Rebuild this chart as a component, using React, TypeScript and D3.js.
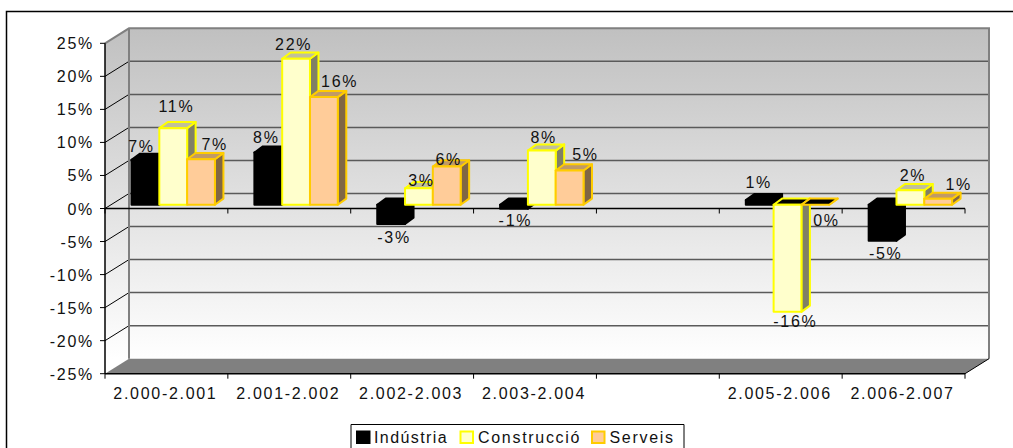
import * as d3 from 'd3'

const categories = ['2.000-2.001', '2.001-2.002', '2.002-2.003', '2.003-2.004', '', '2.005-2.006', '2.006-2.007']
const seriesNames = ['Indústria', 'Construcció', 'Serveis']
const industria = [6.8, 7.9, -2.9, -0.6, null, 0.7, -5.45]
const construccio = [11.6, 22.1, 2.5, 8.2, null, -16.2, 2.2]
const serveis = [6.9, 16.3, 5.8, 5.2, null, 0, 0.9]
const industriaLabels = ['7%', '8%', '-3%', '-1%', '', '1%', '-5%']
const construccioLabels = ['11%', '22%', '3%', '8%', '', '-16%', '2%']
const serveisLabels = ['7%', '16%', '6%', '5%', '', '0%', '1%']
const yTicks = [25, 20, 15, 10, 5, 0, -5, -10, -15, -20, -25]

const series = [
  { name: seriesNames[0], values: industria, labels: industriaLabels, fill: '#000000', stroke: '#000000', top: '#000000', side: '#000000' },
  { name: seriesNames[1], values: construccio, labels: construccioLabels, fill: '#ffffcc', stroke: '#ffff00', top: '#c0c09a', side: '#808066' },
  { name: seriesNames[2], values: serveis, labels: serveisLabels, fill: '#ffcc99', stroke: '#ffcc00', top: '#c09a66', side: '#806644' },
]

// hand placed label offsets from the top of each bar, [dx, dy]
const labelNudges = [
  [[-3.5, -8], [-1.4, -10], [3.4, 18.6], [1.9, 17.7], null, [-0.5, -12], [3.6, 18]],
  [[3.7, -16.4], [-1.9, -8.4], [3, -1.8], [2.4, -7.6], null, [8.4, 14.8], [3.1, -9.5]],
  [[14.2, -9.5], [16.3, -9.7], [2.5, -1.7], [16.3, -10], null, [11.6, 21], [21, -8.4]],
]

const W = 1013, H = 448
const X0 = 105, X1 = 965
const WALL_DX = 24, WALL_DY = -15
const BAR_OFF_X = 6.8, BAR_OFF_Y = -3.7
const DEPTH_X = 8.5, DEPTH_Y = -6.2
const BAR_W = 27.8
const FONT = 'Liberation Sans, Arial, sans-serif'

const x = d3.scaleBand<string>().domain(categories.map((c, i) => c || `gap${i}`)).range([X0, X1])
const y = d3.scaleLinear().domain([-25, 25]).range([373.7, 43.3])

const pts = (p: number[][]) => p.map(d => d.join(',')).join(' ')

function Bar({ cat, idx, s, si }: any) {
  const v = s.values[idx]
  if (v === null) return null
  const bw = x.bandwidth()
  const left = (x(cat) as number) + bw / 2 + BAR_OFF_X + (si - 1.5) * BAR_W
  const right = left + BAR_W
  const yv = y(v) + BAR_OFF_Y
  const y0 = y(0) + BAR_OFF_Y
  const t = Math.min(yv, y0), b = Math.max(yv, y0)
  const topFill = v <= 0 ? '#000000' : s.top
  const attrs = { stroke: s.stroke, strokeWidth: 2, strokeLinejoin: 'round' as const }
  return (
    <g>
      <polygon points={pts([[right, t], [right + DEPTH_X, t + DEPTH_Y], [right + DEPTH_X, b + DEPTH_Y], [right, b]])} fill={s.side} {...attrs} />
      <polygon points={pts([[left, t], [left + DEPTH_X, t + DEPTH_Y], [right + DEPTH_X, t + DEPTH_Y], [right, t]])} fill={topFill} {...attrs} />
      <rect x={left} y={t} width={BAR_W} height={b - t} fill={s.fill} {...attrs} />
    </g>
  )
}

export default function App() {
  const keys = x.domain()
  const tickXs = [...keys.map(k => x(k) as number), X1]
  const textStyle = { fontFamily: FONT, fontSize: 16, letterSpacing: 1.7, fill: '#111' }
  return (
    <svg width={W} height={H} style={{ position: 'fixed', left: 0, top: 0, display: 'block', background: '#fff' }}>
      <defs>
        <linearGradient id="wall" gradientUnits="userSpaceOnUse" x1="0" x2="0" y1={y(25) + WALL_DY} y2={y(-25) + WALL_DY}>
          <stop offset="0" stopColor="#c0c0c0" />
          <stop offset="1" stopColor="#ffffff" />
        </linearGradient>
      </defs>

      <path d={`M6.5,${H}V11.5H${W}`} fill="none" stroke="#000" strokeWidth={1.5} />

      {/* walls */}
      <polygon points={pts([[X0, y(25)], [X0 + WALL_DX, y(25) + WALL_DY], [X0 + WALL_DX, y(-25) + WALL_DY], [X0, y(-25)]])} fill="url(#wall)" />
      <rect x={X0 + WALL_DX} y={y(25) + WALL_DY} width={X1 - X0} height={y(-25) - y(25)} fill="url(#wall)" />

      {/* gridlines */}
      {yTicks.slice(1, -1).map(t => (
        <g key={t}>
          <line x1={X0 + WALL_DX} x2={X1 + WALL_DX} y1={y(t) + WALL_DY} y2={y(t) + WALL_DY} stroke="#5a5a5a" strokeWidth={1.5} />
          <line x1={X0} x2={X0 + WALL_DX} y1={y(t)} y2={y(t) + WALL_DY} stroke="#000" />
        </g>
      ))}

      {/* wall edges and floor */}
      <path d={`M${X0},${y(25)}L${X0 + WALL_DX},${y(25) + WALL_DY}H${X1 + WALL_DX}V${y(-25) + WALL_DY}M${X0 + WALL_DX},${y(25) + WALL_DY}V${y(-25) + WALL_DY}`} fill="none" stroke="#808080" strokeWidth={2} />
      <polygon points={pts([[X0, y(-25)], [X0 + WALL_DX, y(-25) + WALL_DY], [X1 + WALL_DX, y(-25) + WALL_DY], [X1, y(-25)]])} fill="#808080" />
      <line x1={X1} x2={X1 + WALL_DX} y1={y(-25)} y2={y(-25) + WALL_DY} stroke="#000" />

      {/* axes */}
      <line x1={X0} x2={X0} y1={y(25)} y2={y(-25)} stroke="#000" strokeWidth={1.5} />
      {yTicks.map(t => (
        <g key={t}>
          <line x1={X0 - 5} x2={X0} y1={y(t)} y2={y(t)} stroke="#000" />
          <text x={94} y={y(t) + 6} textAnchor="end" style={textStyle}>{t}%</text>
        </g>
      ))}
      {[0, -25].map(t => (
        <g key={t}>
          <line x1={X0} x2={X1} y1={y(t)} y2={y(t)} stroke="#000" strokeWidth={1.5} />
          {tickXs.map(tx => <line key={tx} x1={tx} x2={tx} y1={y(t)} y2={y(t) + 5} stroke="#000" />)}
        </g>
      ))}
      {categories.map((c, i) => (
        <text key={i} x={(x(keys[i]) as number) + x.bandwidth() / 2 - 1} y={398.5} textAnchor="middle" style={textStyle}>{c}</text>
      ))}

      {/* bars */}
      {keys.map((k, i) => (
        <g key={k}>
          {series.map((s, si) => <Bar key={s.name} cat={k} idx={i} s={s} si={si} />)}
        </g>
      ))}

      {/* data labels */}
      {series.map((s, si) => keys.map((k, i) => {
        const v = s.values[i]
        const n = labelNudges[si][i]
        if (v === null || !n) return null
        const cx = (x(k) as number) + x.bandwidth() / 2 + 6.3 + (si - 1) * BAR_W
        return <text key={s.name + k} x={cx + n[0]} y={y(v) + BAR_OFF_Y + n[1]} textAnchor="middle" style={textStyle}>{s.labels[i]}</text>
      }))}

      {/* legend */}
      <path d={`M351,${H}V424.5H684V${H}`} fill="none" stroke="#000" />
      <rect x={356.5} y={431} width={13.5} height={12.5} fill={series[0].fill} stroke={series[0].stroke} />
      <text x={374} y={443} style={{ ...textStyle, letterSpacing: 1.4 }}>{seriesNames[0]}</text>
      <rect x={460.5} y={431.5} width={12.5} height={11.5} fill={series[1].fill} stroke={series[1].stroke} strokeWidth={2} />
      <text x={478} y={443} style={textStyle}>{seriesNames[1]}</text>
      <rect x={592} y={431.5} width={12.5} height={11.5} fill={series[2].fill} stroke={series[2].stroke} strokeWidth={2} />
      <text x={609.5} y={443} style={textStyle}>{seriesNames[2]}</text>
    </svg>
  )
}
